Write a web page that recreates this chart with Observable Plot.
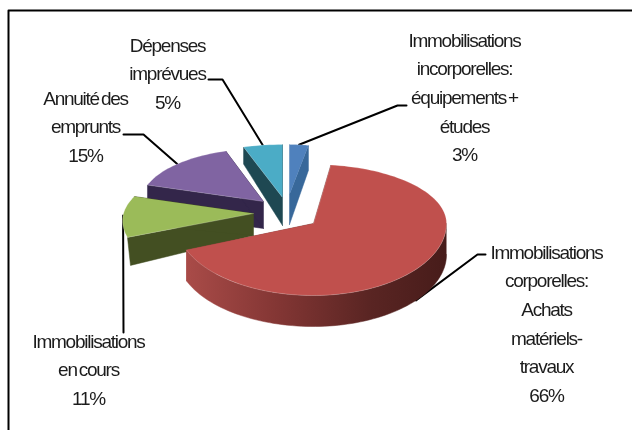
<!DOCTYPE html>
<html><head><meta charset="utf-8">
<style>html,body{margin:0;padding:0;background:#fff}svg{filter:blur(.45px)}svg text{letter-spacing:-1.25px;word-spacing:-2px}</style>
<script src="https://cdn.jsdelivr.net/npm/d3@7"></script>
<script src="https://cdn.jsdelivr.net/npm/@observablehq/plot@0.6"></script>
</head><body><div id="c"></div>
<script>
const categories = ["Immobilisations\nincorporelles:\néquipements +\nétudes","Immobilisations\ncorporelles:\nAchats\nmatériels-\ntravaux","Immobilisations\nen cours","Annuité des\nemprunts","Dépenses\nimprévues"];
const values = [3,66,11,15,5];
const topColors = ["#4f81bd","#c0504d","#9bbb59","#8064a2","#4bacc6"];
const wallColors = ["#38689a","url(#redwall)","#434f22","#33264a","#1e4852"];
// exploded slice geometry: apex position, radii, wall depth, perspective corrections
const apexX = [289,313,253,263,282], apexY=[194,223,213,201,197];
const radX = [101,133,130,122,126], radXLeft=[101,136.5,130,122,126], radTilt=[0,0,15,0,0];
const radUp=[50,59,55,53,53], radDown=[50,72,65,53,53];
const depthOut=[25,31,28,27,17], depthIn=[30,24,22,27,28];
const rimInset=[0,0,3,0,0], showArcWall=[0,1,0,0,0], startNudge=[0,-3.3,0,0,0];
const labelX=[464,546,88,85,167], labelY=[40,252,341,98,45];
const elbowX=[[397,406],[477,485],[123,123],[143,123],[222,208]], elbowY=[[105,105],[254,254],[332,332],[134,134],[79,79]];
const leaderDrop=[0,1,0,0,0];
const drawOrder=[0,4,3,2,1];

const total=d3.sum(values);
const rad=d=>d*Math.PI/180;
let acc=0;
const slices=values.map((v,i)=>{const a0=acc/total*360;acc+=v;return {i,a0,a1:acc/total*360};});
function rim(i,deg){const u=Math.sin(rad(deg)),v=-Math.cos(rad(deg));
  const rx=(u<0?radXLeft[i]:radX[i])+radTilt[i]*v;
  return {x:apexX[i]+rx*u,y:apexY[i]+(v<0?radUp[i]:radDown[i])*v};}
function arc(i,a,b){const n=Math.max(2,Math.ceil((b-a)/2));return d3.range(n+1).map(k=>rim(i,a+(b-a)*k/n));}
const marks=[];
const poly=(pts,fill,extra={})=>Plot.line(pts,{x:"x",y:"y",fill,stroke:"none",curve:"linear",...extra});
marks.push(()=>{const s=d3.create("svg:defs");const g=s.append("linearGradient").attr("id","redwall").attr("gradientUnits","userSpaceOnUse").attr("x1",186).attr("x2",446).attr("y1",0).attr("y2",0);
  [[0,"#a94b48"],[.35,"#833634"],[.7,"#5a2523"],[1,"#471c1a"]].forEach(([o,c])=>g.append("stop").attr("offset",o).attr("stop-color",c));return s.node();});
// frame
marks.push(Plot.line([{x:8,y:431},{x:8,y:10},{x:633,y:10}],{x:"x",y:"y",stroke:"#000",strokeWidth:2,curve:"linear"}));
// leaders (under the slices)
slices.forEach(({i,a0,a1})=>{const p=rim(i,(a0+a1)/2);
  const pts=[{x:p.x,y:p.y+(leaderDrop[i]?depthOut[i]:0)},...elbowX[i].map((x,k)=>({x,y:elbowY[i][k]}))];
  marks.push(Plot.line(pts,{x:"x",y:"y",stroke:"#000",strokeWidth:2,curve:"linear"}));});
for(const j of drawOrder){const {i,a1}=slices[j];const a0=slices[j].a0+startNudge[i];
  const ax=apexX[i],ay=apexY[i],dO=depthOut[i],dI=depthIn[i];
  for(const a of [a0,a1]){const p=rim(i,a);
    marks.push(poly([{x:ax,y:ay},p,{x:p.x+rimInset[i],y:p.y+dO},{x:ax,y:ay+dI}],wallColors[i],{stroke:wallColors[i],strokeWidth:.5}));}
  const f0=Math.max(a0,90),f1=Math.min(a1,270);
  if(showArcWall[i]&&f1>f0){const e=arc(i,f0,f1);
    marks.push(poly([...e,...e.slice().reverse().map(p=>({x:p.x,y:p.y+dO}))],wallColors[i],{stroke:wallColors[i],strokeWidth:.5}));}
  marks.push(poly([{x:ax,y:ay},...arc(i,a0,a1)],topColors[i],{stroke:"#fff",strokeOpacity:.25,strokeWidth:.8}));
}
// green leader stays visible beside its slice
// labels
const labelRows=[];
slices.forEach(({i})=>{[...categories[i].split("\n"),values[i]+"%"].forEach((t,k)=>labelRows.push({t,x:labelX[i],y:labelY[i]+k*28.7}));});
marks.push(Plot.text(labelRows,{x:"x",y:"y",text:"t",fontSize:19,fontFamily:"Liberation Sans",fill:"#1c1c1c",textAnchor:"middle"}));
const chart=Plot.plot({width:632,height:430,margin:0,x:{type:"linear",domain:[0,632],range:[0,632],axis:null},y:{type:"linear",domain:[0,430],range:[0,430],axis:null},style:{background:"#fff"},marks});
document.getElementById("c").append(chart);
</script></body></html>
